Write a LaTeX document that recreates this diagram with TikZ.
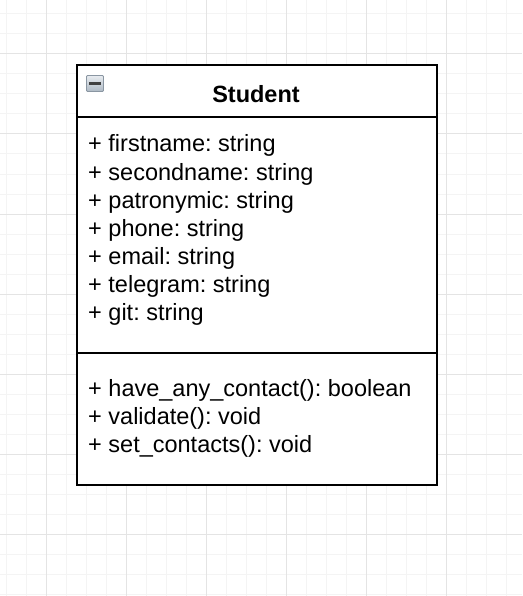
\documentclass[tikz,border=0pt]{standalone}
\usepackage{fontspec}
\setmainfont{Liberation Sans}
\usepackage{tikz}
\frenchspacing

\definecolor{gridminor}{HTML}{F4F4F4}
\definecolor{gridmajor}{HTML}{E4E4E4}
\definecolor{icontop}{HTML}{E8ECF0}
\definecolor{iconbot}{HTML}{AEB9C4}
\definecolor{iconedge}{HTML}{8A96A2}

\tikzset{
    classbox/.style={draw, line width=1.6pt, minimum width=360pt, minimum height=420pt, inner sep=0pt},
    member/.style={anchor=base west, inner sep=0pt, font=\fontsize{23.5}{28}\selectfont},
}

\begin{document}
\begin{tikzpicture}[x=1pt,y=-1pt]
    \useasboundingbox (0,0) rectangle (522,596);
    \fill[white] (0,0) rectangle (522,596);
    % grid
    \foreach \x in {6,26,...,522} \draw[gridminor, line width=1pt] (\x,0) -- (\x,596);
    \foreach \y in {14,34,...,596} \draw[gridminor, line width=1pt] (0,\y) -- (522,\y);
    \foreach \x in {46,126,...,522} \draw[gridmajor, line width=1pt] (\x,0) -- (\x,596);
    \foreach \y in {54,134,...,596} \draw[gridmajor, line width=1pt] (0,\y) -- (522,\y);

    \node[classbox, fill=white] (student) at (257,275) {};
    \coordinate (headL) at (77,117);
    \coordinate (headR) at (437,117);
    \coordinate (sepL) at (77,353);
    \coordinate (sepR) at (437,353);
    \draw[line width=1.6pt] (headL) -- (headR);
    \draw[line width=1.6pt] (sepL) -- (sepR);

    % collapse icon
    \shade[top color=icontop, bottom color=iconbot, draw=iconedge, line width=0.8pt, rounded corners=1pt] (86.5,75.5) rectangle (103.5,91.5);
    \fill[black!75] (89,82) rectangle (101,85);

    \node[anchor=base, inner sep=0pt, font=\fontsize{23.5}{28}\selectfont\bfseries] (title) at (256,102.5) {Student};

    \node[member] (a1) at (88,152) {+ firstname: string};
    \node[member] (a2) at (88,180) {+ secondname: string};
    \node[member] (a3) at (88,208) {+ patronymic: string};
    \node[member] (a4) at (88,236) {+ phone: string};
    \node[member] (a5) at (88,264) {+ email: string};
    \node[member] (a6) at (88,292) {+ telegram: string};
    \node[member] (a7) at (88,320) {+ git: string};

    \node[member] (m1) at (88,396) {+ have\_any\_contact(): boolean};
    \node[member] (m2) at (88,424) {+ validate(): void};
    \node[member] (m3) at (88,452) {+ set\_contacts(): void};
\end{tikzpicture}
\end{document}
